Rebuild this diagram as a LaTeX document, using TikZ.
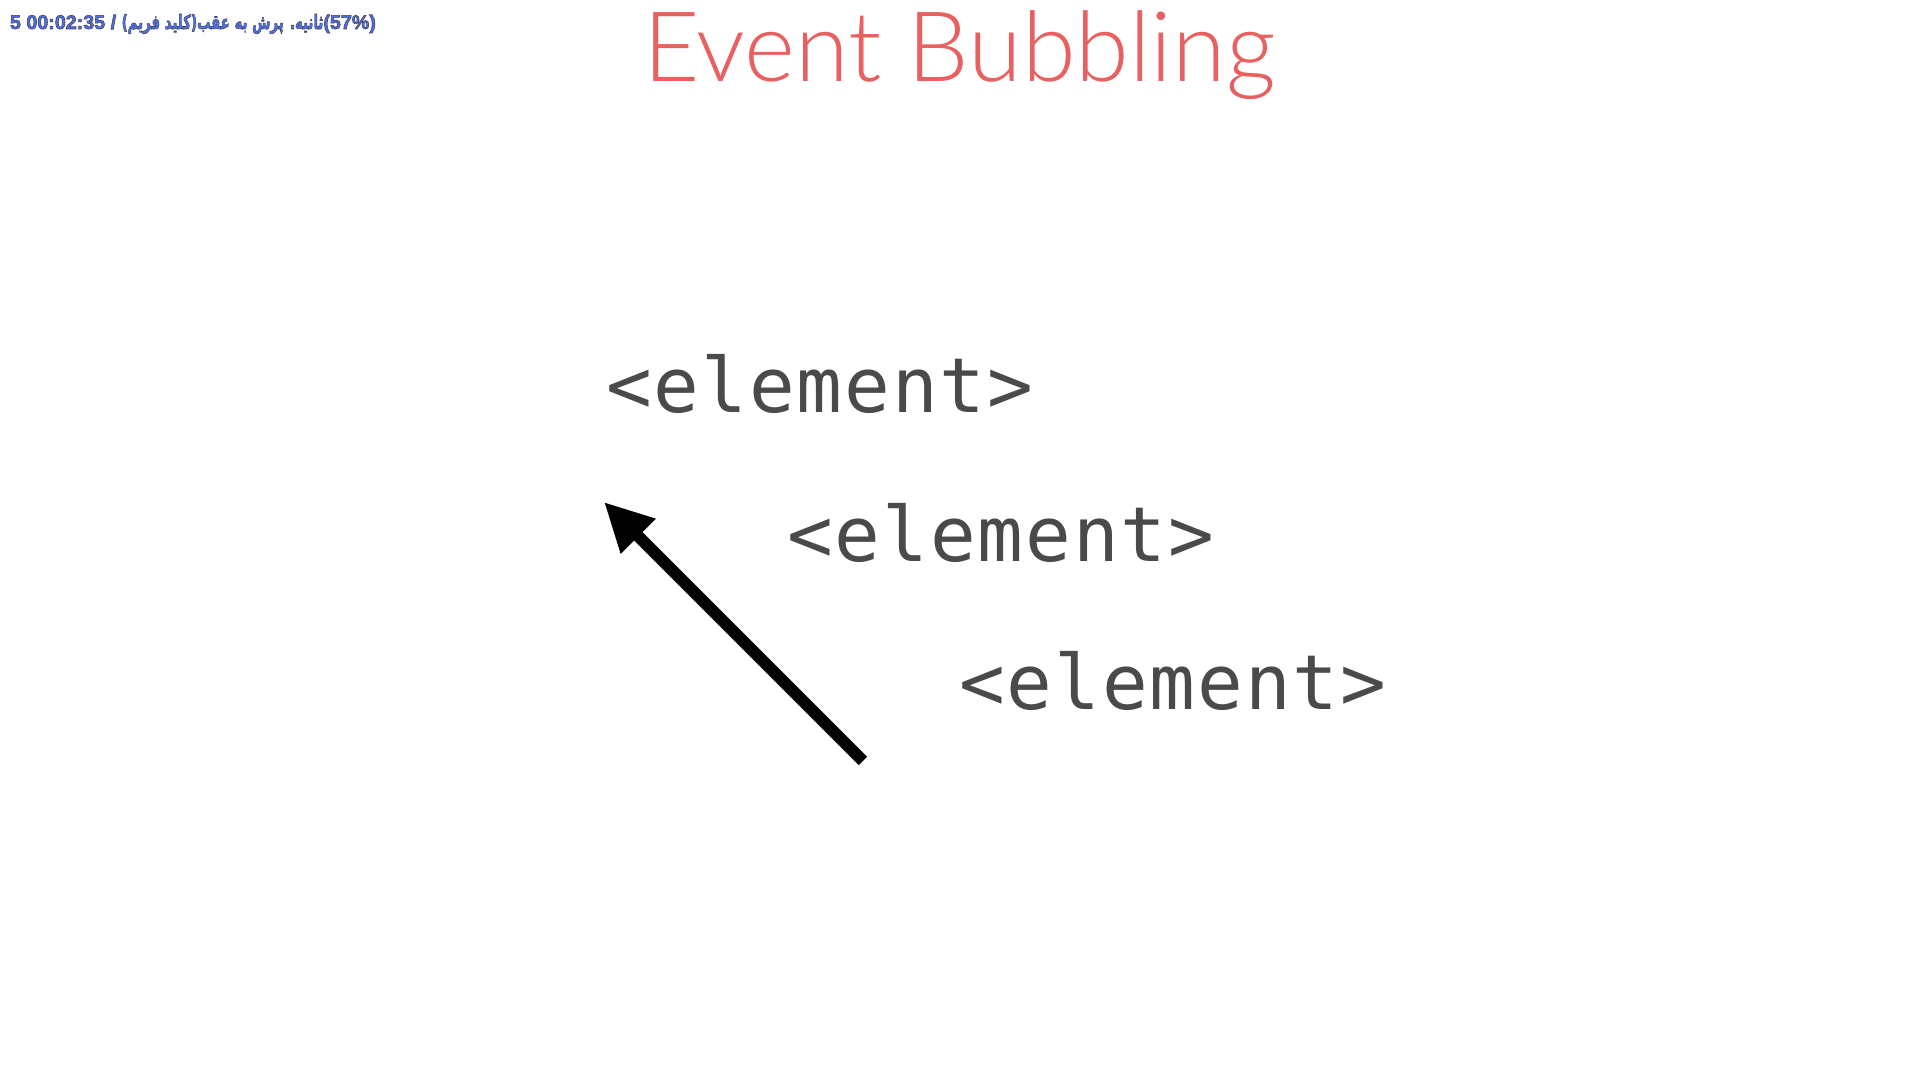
\documentclass[tikz,border=0pt]{standalone}
\usepackage{fontspec}
\usepackage{graphicx}
\usetikzlibrary{arrows.meta}
\TeXXeTstate=1
\IfFontExistsTF{Lato Light}{\newfontfamily\titlefont{Lato Light}}{\newfontfamily\titlefont{Lato}}
\newfontfamily\tagfont[LetterSpace=2.6]{DejaVu Sans Mono}
\newfontfamily\osdlatin{Liberation Sans}
\newfontfamily\osdarabic[Script=Arabic]{DejaVu Sans}
\definecolor{titlered}{RGB}{232,96,96}
\definecolor{taggray}{RGB}{74,74,74}
\definecolor{osdblue}{RGB}{78,112,232}
\newcommand{\osdoutline}[1]{\special{pdf:literal direct 2 Tr 0.16 w 0.25 0.25 0.32 RG}#1\special{pdf:literal direct 0 Tr}}
\begin{document}
\begin{tikzpicture}[x=0.01cm,y=-0.01cm,
  every node/.style={inner sep=0pt,outer sep=0pt},
  tag/.style={anchor=base west,font=\tagfont\fontsize{21.6}{24}\selectfont,text=taggray},
  titlestyle/.style={anchor=base west,font=\titlefont\fontsize{27.7}{30}\selectfont,text=titlered},
  osdstyle/.style={anchor=base west,font=\osdlatin\bfseries\fontsize{5.6}{7}\selectfont,text=osdblue},
  bubble/.style={line width=3.4pt,-{Triangle[length=13.8pt,width=13.1pt]}}]
\useasboundingbox[fill=white] (0,0) rectangle (1920,1080);
\node[osdstyle] (osd) at (10,29) {\osdoutline{5 00:02:35 / }\scalebox{0.675}[1]{\osdoutline{\osdarabic\bfseries\beginR ثانیه. پرش به عقب(کلید فریم)\endR}}\osdoutline{(57\%)}};
\node[titlestyle] (title) at (643,82) {Event Bubbling};
\node[tag] (e1) at (606,413) {<element>};
\node[tag] (e2) at (787,562) {<element>};
\node[tag] (e3) at (959,710) {<element>};
\coordinate (tail) at (863,761);
\coordinate (tip) at (604,502);
\draw[bubble] (tail) -- (tip);
\end{tikzpicture}
\end{document}
